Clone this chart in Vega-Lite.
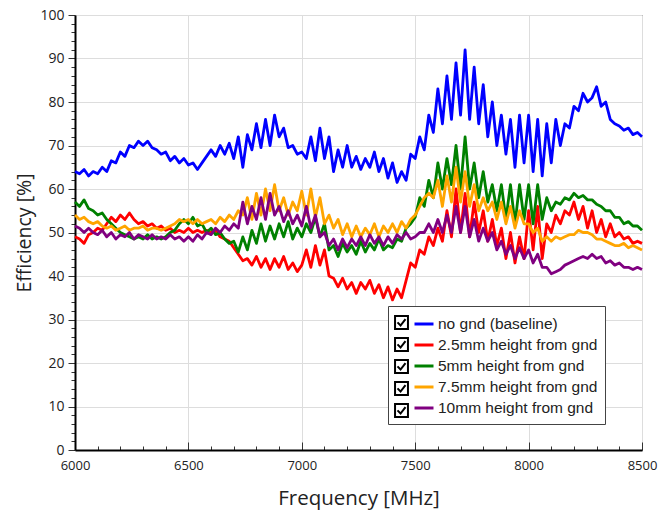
{
  "$schema": "https://vega.github.io/schema/vega-lite/v6.json",
  "width": 567,
  "height": 435,
  "autosize": "none",
  "padding": {"left": 75, "top": 15, "right": 25, "bottom": 64},
  "background": "white",
  "config": {"view": {"stroke": "#333333", "strokeWidth": 1}},
  "datasets": {
    "rows": [
      {"f":6000,"a":64,"b":49,"c":57,"d":54,"e":51.5},
      {"f":6020,"a":63.5,"b":48.5,"c":56,"d":53,"e":51},
      {"f":6040,"a":64.5,"b":47.5,"c":57.5,"d":53.5,"e":50},
      {"f":6060,"a":63,"b":49.5,"c":55.5,"d":52.5,"e":51},
      {"f":6080,"a":64,"b":50,"c":55,"d":52,"e":50},
      {"f":6100,"a":63.5,"b":51,"c":54,"d":52.5,"e":49.5},
      {"f":6120,"a":65,"b":50.5,"c":54.5,"d":51.5,"e":50.5},
      {"f":6140,"a":64,"b":52,"c":53,"d":51,"e":49},
      {"f":6160,"a":66.5,"b":53.5,"c":52,"d":51.5,"e":50},
      {"f":6180,"a":66,"b":52.5,"c":51,"d":50.5,"e":48.5},
      {"f":6200,"a":68.5,"b":54,"c":50,"d":51,"e":49.5},
      {"f":6220,"a":67.5,"b":53,"c":49.5,"d":51.5,"e":49},
      {"f":6240,"a":70,"b":54.5,"c":49,"d":50.5,"e":50},
      {"f":6260,"a":69.5,"b":53,"c":48.5,"d":51,"e":48.5},
      {"f":6280,"a":71,"b":52,"c":49,"d":51,"e":49.5},
      {"f":6300,"a":70,"b":52.5,"c":48.5,"d":51.5,"e":49},
      {"f":6320,"a":71,"b":51.5,"c":49.5,"d":50.5,"e":48.5},
      {"f":6340,"a":69.5,"b":52,"c":48.5,"d":51,"e":49.5},
      {"f":6360,"a":69,"b":51,"c":49,"d":51,"e":48.5},
      {"f":6380,"a":68,"b":51.5,"c":48.5,"d":50.5,"e":49},
      {"f":6400,"a":68.5,"b":50.5,"c":49,"d":51,"e":48.5},
      {"f":6420,"a":66.5,"b":51,"c":50,"d":51.5,"e":49.5},
      {"f":6440,"a":67.5,"b":50,"c":50.5,"d":52,"e":48.5},
      {"f":6460,"a":66,"b":50.5,"c":52,"d":53,"e":49},
      {"f":6480,"a":67,"b":50,"c":53,"d":52.5,"e":48},
      {"f":6500,"a":65.5,"b":51,"c":52,"d":53,"e":49},
      {"f":6520,"a":66,"b":50,"c":53.5,"d":52,"e":48},
      {"f":6540,"a":64.5,"b":50.5,"c":51.5,"d":53,"e":49.5},
      {"f":6560,"a":66,"b":50,"c":52,"d":52,"e":48.5},
      {"f":6580,"a":67.5,"b":50.5,"c":50,"d":52.5,"e":50},
      {"f":6600,"a":69,"b":50,"c":51,"d":53,"e":49.5},
      {"f":6620,"a":67.5,"b":50.5,"c":49.5,"d":52,"e":51},
      {"f":6640,"a":70,"b":49,"c":50,"d":53.5,"e":50},
      {"f":6660,"a":68,"b":48.5,"c":48.5,"d":52.5,"e":51.5},
      {"f":6680,"a":70.5,"b":48,"c":47.5,"d":54,"e":50.5},
      {"f":6700,"a":67,"b":46.5,"c":48,"d":53,"e":52},
      {"f":6720,"a":72,"b":45,"c":45.5,"d":55,"e":51},
      {"f":6740,"a":65,"b":43.5,"c":49,"d":54,"e":57},
      {"f":6760,"a":72.5,"b":44,"c":46,"d":58,"e":52},
      {"f":6780,"a":69,"b":42.5,"c":50.5,"d":53,"e":56},
      {"f":6800,"a":75,"b":44.5,"c":47.5,"d":59,"e":53},
      {"f":6820,"a":69.5,"b":42,"c":52,"d":54,"e":58},
      {"f":6840,"a":76,"b":44,"c":48,"d":60,"e":53},
      {"f":6860,"a":70,"b":41.5,"c":51.5,"d":55,"e":59},
      {"f":6880,"a":77,"b":44,"c":48.5,"d":61,"e":54},
      {"f":6900,"a":72,"b":42,"c":52,"d":55,"e":56},
      {"f":6920,"a":74,"b":44.5,"c":49,"d":58,"e":52.5},
      {"f":6940,"a":69.5,"b":41.5,"c":52.5,"d":54,"e":55},
      {"f":6960,"a":70,"b":43,"c":48.5,"d":57,"e":52},
      {"f":6980,"a":68,"b":41,"c":51,"d":55,"e":54},
      {"f":7000,"a":68.5,"b":42.5,"c":49,"d":59.5,"e":51.5},
      {"f":7020,"a":67,"b":46,"c":52,"d":54,"e":56},
      {"f":7040,"a":72,"b":42,"c":50,"d":60,"e":51},
      {"f":7060,"a":66.5,"b":47,"c":53.5,"d":53.5,"e":54},
      {"f":7080,"a":74,"b":42.5,"c":49,"d":58,"e":49},
      {"f":7100,"a":67,"b":46,"c":52,"d":52,"e":50},
      {"f":7120,"a":72,"b":40,"c":46,"d":54,"e":47},
      {"f":7140,"a":64,"b":39.5,"c":47,"d":51,"e":48.5},
      {"f":7160,"a":69,"b":37.5,"c":44.5,"d":53,"e":46},
      {"f":7180,"a":65,"b":39.5,"c":47.5,"d":49.5,"e":48.5},
      {"f":7200,"a":70,"b":37,"c":45.5,"d":52,"e":46.5},
      {"f":7220,"a":65,"b":38.5,"c":47,"d":49,"e":48.5},
      {"f":7240,"a":67.5,"b":36,"c":45,"d":51.5,"e":47},
      {"f":7260,"a":64.5,"b":38.5,"c":48,"d":49,"e":49},
      {"f":7280,"a":67,"b":37,"c":45.5,"d":51,"e":47},
      {"f":7300,"a":65,"b":39,"c":47.5,"d":49.5,"e":49.5},
      {"f":7320,"a":68.5,"b":36,"c":46,"d":52,"e":47.5},
      {"f":7340,"a":64,"b":38,"c":48.5,"d":49,"e":49},
      {"f":7360,"a":67,"b":35,"c":46,"d":51.5,"e":47},
      {"f":7380,"a":62.5,"b":37.5,"c":47,"d":50,"e":49},
      {"f":7400,"a":66,"b":34.5,"c":46.5,"d":52,"e":47.5},
      {"f":7420,"a":61.5,"b":37,"c":48.5,"d":50,"e":49.5},
      {"f":7440,"a":64,"b":35,"c":48,"d":52.5,"e":48.5},
      {"f":7460,"a":62,"b":39,"c":51,"d":51,"e":50},
      {"f":7480,"a":68,"b":43,"c":52,"d":53,"e":48.5},
      {"f":7500,"a":67,"b":42,"c":53.5,"d":54,"e":49},
      {"f":7520,"a":72,"b":46,"c":58,"d":56,"e":50},
      {"f":7540,"a":69,"b":45,"c":56,"d":58,"e":50},
      {"f":7560,"a":77,"b":49,"c":62,"d":59,"e":52},
      {"f":7580,"a":73,"b":47,"c":58,"d":58,"e":50},
      {"f":7600,"a":83,"b":51,"c":66,"d":62,"e":53},
      {"f":7620,"a":75,"b":48,"c":60,"d":56,"e":50},
      {"f":7640,"a":86,"b":55,"c":67,"d":63,"e":54},
      {"f":7660,"a":76,"b":49,"c":61,"d":57,"e":50},
      {"f":7680,"a":89,"b":60,"c":70,"d":65,"e":56},
      {"f":7700,"a":77,"b":50,"c":60,"d":57,"e":50},
      {"f":7720,"a":92,"b":59,"c":72,"d":64,"e":56},
      {"f":7740,"a":76,"b":49,"c":60,"d":56,"e":49},
      {"f":7760,"a":88,"b":57,"c":66,"d":61,"e":53},
      {"f":7780,"a":75,"b":50,"c":58,"d":55,"e":48},
      {"f":7800,"a":84,"b":55,"c":64,"d":58,"e":51},
      {"f":7820,"a":72,"b":48,"c":57,"d":55,"e":48},
      {"f":7840,"a":80,"b":53,"c":61,"d":57,"e":50},
      {"f":7860,"a":70,"b":47,"c":55,"d":53,"e":46},
      {"f":7880,"a":77,"b":51,"c":61,"d":57,"e":48},
      {"f":7900,"a":68,"b":44,"c":53,"d":52,"e":45},
      {"f":7920,"a":76,"b":50,"c":61,"d":56,"e":47},
      {"f":7940,"a":65,"b":43,"c":52,"d":51,"e":44},
      {"f":7960,"a":77,"b":49,"c":61,"d":55,"e":46.5},
      {"f":7980,"a":66,"b":44,"c":53,"d":52,"e":44},
      {"f":8000,"a":77,"b":55,"c":61,"d":52,"e":46},
      {"f":8020,"a":64,"b":46,"c":52,"d":50,"e":43},
      {"f":8040,"a":76,"b":56,"c":61,"d":51,"e":45},
      {"f":8060,"a":63,"b":44,"c":53,"d":48,"e":42},
      {"f":8080,"a":75,"b":52,"c":58,"d":49,"e":42},
      {"f":8100,"a":66,"b":50,"c":55,"d":48,"e":40.5},
      {"f":8120,"a":76,"b":54,"c":57,"d":49,"e":41},
      {"f":8140,"a":70,"b":52,"c":56.5,"d":48.5,"e":41.5},
      {"f":8160,"a":75,"b":55,"c":58,"d":49,"e":42.5},
      {"f":8180,"a":74,"b":54,"c":57.5,"d":49.5,"e":43},
      {"f":8200,"a":79,"b":57,"c":59,"d":49.5,"e":43.5},
      {"f":8220,"a":78,"b":53,"c":58,"d":50.5,"e":44},
      {"f":8240,"a":82,"b":56,"c":58.5,"d":50,"e":44.5},
      {"f":8260,"a":80,"b":51,"c":57.5,"d":50,"e":44},
      {"f":8280,"a":81,"b":55,"c":57.5,"d":49.5,"e":45},
      {"f":8300,"a":83.5,"b":50,"c":56.5,"d":48.5,"e":44},
      {"f":8320,"a":79,"b":53,"c":56,"d":48.5,"e":44.5},
      {"f":8340,"a":80,"b":49,"c":55,"d":48,"e":43},
      {"f":8360,"a":76,"b":52,"c":55,"d":47.5,"e":43.5},
      {"f":8380,"a":75,"b":49,"c":53.5,"d":47,"e":42.5},
      {"f":8400,"a":74.5,"b":50,"c":53.5,"d":47,"e":43},
      {"f":8420,"a":73.5,"b":48.5,"c":52,"d":47.5,"e":42},
      {"f":8440,"a":74,"b":49,"c":52.5,"d":46.5,"e":42},
      {"f":8460,"a":72.5,"b":47.5,"c":51.5,"d":47,"e":41.5},
      {"f":8480,"a":73,"b":48,"c":51.5,"d":46.5,"e":42},
      {"f":8500,"a":72,"b":47.5,"c":50.5,"d":46,"e":41.5}
    ]
  },
  "data": {"name": "rows"},
  "layer": [
    {
      "transform": [{"fold": ["a", "b", "c", "d", "e"], "as": ["k", "v"]}],
      "mark": {"type": "line", "strokeWidth": 2.8, "strokeJoin": "round"},
      "encoding": {
        "x": {
          "field": "f", "type": "quantitative",
          "scale": {"domain": [6000, 8500], "nice": false, "zero": false},
          "axis": {
            "title": "Frequency [MHz]",
            "values": [6000,6100,6200,6300,6400,6500,6600,6700,6800,6900,7000,7100,7200,7300,7400,7500,7600,7700,7800,7900,8000,8100,8200,8300,8400,8500],
            "format": "d",
            "labelExpr": "datum.value % 500 === 0 ? datum.label : ''",
            "tickSize": {"condition": {"test": "datum.value % 500 === 0", "value": -8}, "value": -4},
            "tickColor": "#333333",
            "grid": true,
            "gridColor": "#dddddd",
            "gridOpacity": {"condition": {"test": "datum.value % 500 === 0", "value": 1}, "value": 0},
            "domainColor": "#000000",
            "domainWidth": 2,
            "labelFont": "Open Sans",
            "labelFontSize": 13,
            "labelColor": "#222222",
            "labelPadding": 17,
            "labelFlush": false,
            "labelOverlap": false,
            "titleFont": "Open Sans",
            "titleFontSize": 20.5,
            "titleFontWeight": "normal",
            "titleColor": "#222222",
            "titlePadding": 12
          }
        },
        "y": {
          "field": "v", "type": "quantitative",
          "scale": {"domain": [0, 100], "nice": false},
          "axis": {
            "title": "Efficiency [%]",
            "values": [0,2,4,6,8,10,12,14,16,18,20,22,24,26,28,30,32,34,36,38,40,42,44,46,48,50,52,54,56,58,60,62,64,66,68,70,72,74,76,78,80,82,84,86,88,90,92,94,96,98,100],
            "format": "d",
            "labelExpr": "datum.value % 10 === 0 ? datum.label : ''",
            "tickSize": {"condition": {"test": "datum.value % 10 === 0", "value": 7}, "value": 4},
            "tickColor": "#333333",
            "grid": true,
            "gridColor": "#dddddd",
            "gridOpacity": {"condition": {"test": "datum.value % 10 === 0", "value": 1}, "value": 0},
            "domainColor": "#000000",
            "domainWidth": 2,
            "labelFont": "Open Sans",
            "labelFontSize": 14,
            "labelColor": "#222222",
            "labelPadding": 4,
            "labelOverlap": false,
            "titleFont": "Open Sans",
            "titleFontSize": 19.5,
            "titleFontWeight": "normal",
            "titleColor": "#222222",
            "titlePadding": 5
          }
        },
        "color": {
          "field": "k", "type": "nominal",
          "scale": {"domain": ["a", "b", "c", "d", "e"], "range": ["#0000ff", "#ff0000", "#008000", "#ffa500", "#800080"]},
          "legend": {
            "orient": "none",
            "legendX": 313,
            "legendY": 291,
            "title": null,
            "direction": "vertical",
            "padding": 7,
            "fillColor": "white",
            "strokeColor": "#444444",
            "cornerRadius": 0,
            "symbolType": "stroke",
            "symbolSize": 361,
            "symbolStrokeWidth": 3,
            "symbolOffset": 18,
            "labelOffset": 3,
            "labelFont": "Liberation Sans",
            "labelFontSize": 15.5,
            "labelColor": "#222222",
            "labelLimit": 300,
            "rowPadding": 1,
            "labelExpr": "datum.label == 'a' ? 'no gnd (baseline)' : datum.label == 'b' ? '2.5mm height from gnd' : datum.label == 'c' ? '5mm height from gnd' : datum.label == 'd' ? '7.5mm height from gnd' : '10mm height from gnd'"
          }
        }
      }
    },
    {
      "transform": [{"fold": ["a", "b", "c", "d", "e"], "as": ["k2", "v2"]}, {"filter": "datum.f == 6000"}],
      "mark": {"type": "point", "opacity": 0, "filled": false, "color": "black", "strokeWidth": 2},
      "encoding": {
        "shape": {
          "field": "k2", "type": "nominal",
          "scale": {
            "range": [
              "M-0.76,-0.76L0.76,-0.76L0.76,0.76L-0.76,0.76Z M-0.47,-0.02L-0.11,0.36L0.47,-0.4",
              "M-0.76,-0.76L0.76,-0.76L0.76,0.76L-0.76,0.76Z M-0.47,-0.02L-0.11,0.36L0.47,-0.4",
              "M-0.76,-0.76L0.76,-0.76L0.76,0.76L-0.76,0.76Z M-0.47,-0.02L-0.11,0.36L0.47,-0.4",
              "M-0.76,-0.76L0.76,-0.76L0.76,0.76L-0.76,0.76Z M-0.47,-0.02L-0.11,0.36L0.47,-0.4",
              "M-0.76,-0.76L0.76,-0.76L0.76,0.76L-0.76,0.76Z M-0.47,-0.02L-0.11,0.36L0.47,-0.4"
            ]
          },
          "legend": {
            "orient": "none",
            "legendX": 310,
            "legendY": 291,
            "title": null,
            "direction": "vertical",
            "padding": 7,
            "symbolSize": 289,
            "symbolStrokeWidth": 2,
            "symbolStrokeColor": "black",
            "symbolFillColor": "white",
            "labelFontSize": 15.5,
            "labelExpr": "''",
            "rowPadding": 1
          }
        }
      }
    }
  ]
}
